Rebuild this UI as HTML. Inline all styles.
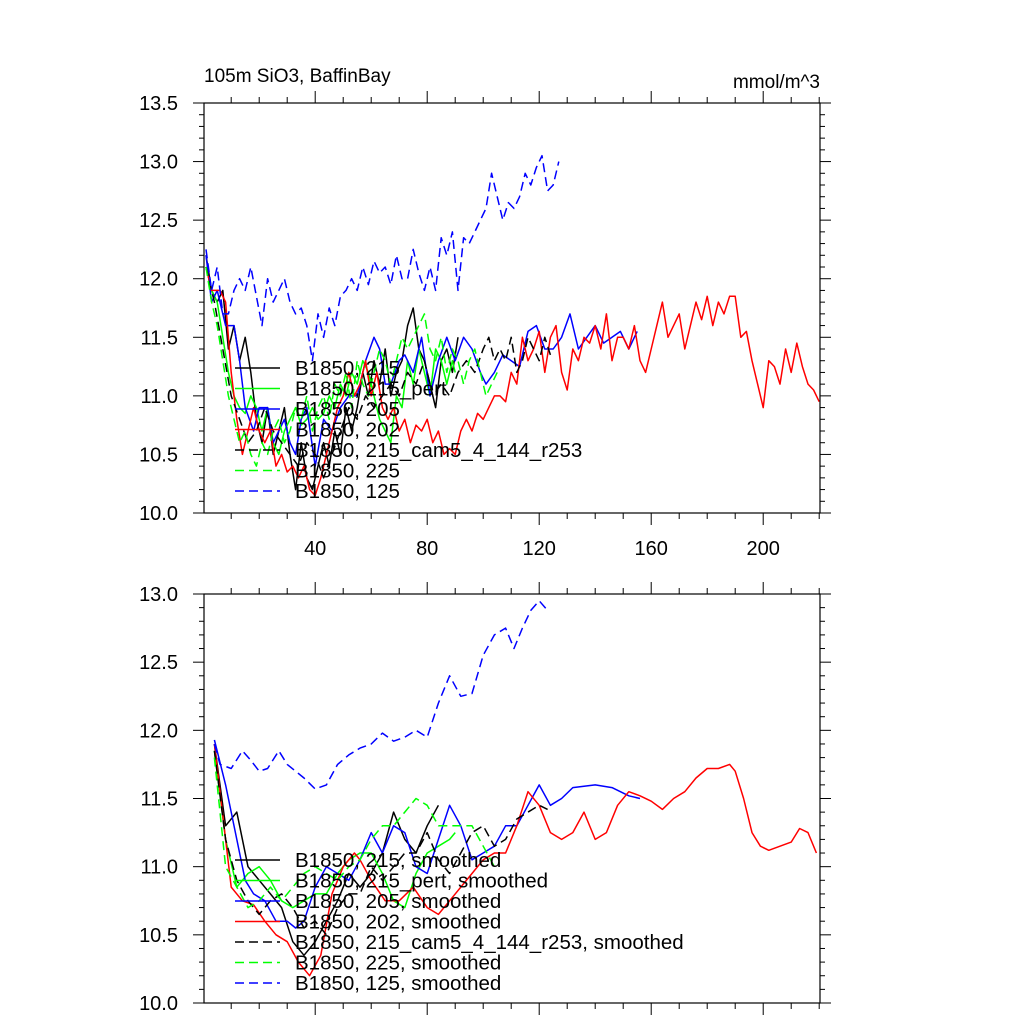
<!DOCTYPE html>
<html><head><meta charset="utf-8"><style>
body{margin:0;background:#fff}
svg{display:block;font-family:"Liberation Sans",sans-serif}
</style></head><body>
<svg id="c" width="1024" height="1024" viewBox="0 0 1024 1024"></svg>
<script>
const rawBlueDash = [[1,12.25],[3,11.9],[5,12.1],[7,11.7],[9,11.7],[11,11.9],[13,12.0],[15,11.9],[17,12.1],[19,11.85],[21,11.6],[23,12.0],[25,11.8],[27,11.9],[29,12.0],[31,11.8],[33,11.7],[35,11.75],[37,11.6],[39,11.3],[41,11.7],[43,11.5],[45,11.75],[47,11.6],[49,11.85],[51,11.9],[53,12.0],[55,11.9],[57,12.1],[59,11.95],[61,12.15],[63,12.05],[65,12.1],[67,11.95],[69,12.2],[71,12.0],[73,12.0],[75,12.25],[77,12.05],[79,11.9],[81,12.1],[83,11.9],[85,12.35],[87,12.2],[89,12.4],[91,11.9],[93,12.35],[95,12.3],[97,12.4],[99,12.5],[101,12.6],[103,12.9],[105,12.7],[107,12.5],[109,12.65],[111,12.6],[113,12.7],[115,12.9],[117,12.8],[119,12.95],[121,13.05],[123,12.75],[125,12.8],[127,13.0]];
const rawRed = [[1,12.1],[3,11.9],[6,11.9],[8,11.8],[10,11.2],[12,10.8],[14,10.5],[16,10.7],[18,10.9],[20,10.7],[22,10.6],[24,10.7],[26,10.4],[28,10.5],[30,10.35],[32,10.4],[34,10.3],[36,10.4],[38,10.2],[40,10.15],[42,10.3],[44,10.5],[46,10.7],[48,10.9],[50,11.0],[52,11.2],[54,11.0],[56,11.1],[58,11.3],[60,11.0],[62,11.2],[64,10.9],[66,10.8],[68,10.9],[70,10.7],[72,10.8],[74,10.6],[76,10.75],[78,10.7],[80,10.8],[82,10.6],[84,10.7],[86,10.5],[88,10.55],[90,10.5],[92,10.7],[94,10.8],[96,10.7],[98,10.85],[100,10.8],[102,10.9],[104,11.0],[106,11.0],[108,10.95],[110,11.2],[112,11.1],[114,11.5],[116,11.3],[118,11.4],[120,11.55],[122,11.2],[124,11.5],[126,11.6],[128,11.2],[130,11.05],[132,11.4],[134,11.3],[136,11.5],[138,11.45],[140,11.6],[142,11.4],[144,11.7],[146,11.3],[148,11.5],[150,11.5],[152,11.4],[154,11.6],[156,11.3],[158,11.2],[160,11.4],[162,11.6],[164,11.8],[166,11.5],[168,11.6],[170,11.7],[172,11.4],[174,11.6],[176,11.8],[178,11.65],[180,11.85],[182,11.6],[184,11.8],[186,11.7],[188,11.85],[190,11.85],[192,11.5],[194,11.55],[196,11.3],[198,11.1],[200,10.9],[202,11.3],[204,11.25],[206,11.1],[208,11.4],[210,11.2],[212,11.45],[214,11.25],[216,11.1],[218,11.05],[220,10.95]];
const rawBlack = [[1,12.2],[3,11.9],[5,11.8],[7,11.9],[9,11.4],[11,11.6],[13,11.3],[15,11.5],[17,11.2],[19,10.8],[21,10.6],[23,10.9],[25,10.5],[27,10.7],[29,10.9],[31,10.5],[33,10.2],[35,10.6],[37,10.3],[39,10.2],[41,10.4],[43,10.6],[45,10.4],[47,10.7],[49,10.5],[51,10.9],[53,10.7],[55,10.9],[57,11.2],[59,11.0],[61,11.3],[63,11.1],[65,11.4],[67,11.0],[69,11.2],[71,11.3],[73,11.6],[75,11.75],[77,11.4],[79,11.3],[81,11.1],[83,10.9],[85,11.3],[87,11.4],[89,11.2],[91,11.5]];
const rawBlackDash = [[1,12.1],[4,11.8],[7,11.4],[10,11.0],[13,10.8],[16,10.6],[19,10.7],[22,10.9],[25,10.7],[28,10.6],[31,10.5],[34,10.4],[37,10.6],[40,10.5],[43,10.3],[46,10.5],[49,10.7],[52,10.9],[55,10.8],[58,11.0],[61,10.9],[64,11.0],[67,11.1],[70,11.0],[73,11.2],[76,11.1],[79,11.3],[82,11.0],[85,11.1],[88,11.0],[91,11.2],[94,11.3],[97,11.2],[100,11.4],[102,11.5],[104,11.3],[106,11.4],[108,11.3],[110,11.5],[112,11.2],[114,11.3],[116,11.5],[118,11.4],[120,11.3],[122,11.5],[124,11.35]];
const rawGreen = [[1,12.1],[3,11.9],[5,11.8],[7,11.5],[9,11.2],[11,11.0],[13,10.9],[15,10.85],[17,11.0],[19,10.9],[21,10.7],[23,10.9],[25,10.6],[27,10.5],[29,10.7],[31,10.8],[33,10.9],[35,10.75],[37,10.8],[39,10.9],[41,10.8],[43,10.85],[45,11.0],[47,10.9],[49,11.1],[51,11.0],[53,11.2],[55,11.1],[57,11.3],[59,11.2],[61,11.0],[63,10.8],[65,10.7],[67,10.6],[69,11.0],[71,10.9],[73,11.3],[75,11.1],[77,11.4],[79,11.2],[81,11.0],[83,11.4],[85,11.3],[87,11.1],[89,11.3],[90,11.2]];
const rawGreenDash = [[1,12.1],[3,11.8],[5,11.6],[7,11.3],[9,11.0],[11,10.8],[13,10.6],[15,10.7],[17,10.5],[19,10.4],[21,10.6],[23,10.5],[25,10.7],[27,10.8],[29,10.6],[31,10.7],[33,10.9],[35,10.8],[37,11.0],[39,10.7],[41,10.9],[43,11.0],[45,10.8],[47,11.1],[49,11.0],[51,11.2],[53,10.9],[55,11.3],[57,11.1],[59,11.0],[61,11.2],[63,11.4],[65,11.3],[67,11.1],[69,11.3],[71,11.5],[73,11.4],[75,11.5],[77,11.6],[79,11.7],[81,11.4],[83,11.3],[85,11.5],[87,11.2],[89,11.4],[91,11.3],[93,11.1],[95,11.3],[97,11.4],[99,11.2],[101,11.0],[103,11.1],[105,11.2]];
const rawBlue = [[1,12.2],[3,11.8],[5,11.9],[8,11.6],[11,11.6],[13,11.3],[15,10.9],[18,10.7],[20,10.9],[23,10.9],[25,10.6],[27,10.7],[29,10.8],[31,10.6],[33,10.5],[35,10.8],[37,10.9],[40,10.4],[43,10.8],[46,10.7],[49,10.9],[52,11.0],[55,11.0],[58,11.3],[61,11.5],[63,11.4],[65,11.1],[67,11.1],[70,11.3],[72,11.35],[75,11.2],[78,11.5],[81,11.0],[84,11.3],[87,11.5],[90,11.3],[93,11.5],[96,11.4],[99,11.2],[101,11.1],[104,11.2],[107,11.35],[110,11.3],[113,11.25],[116,11.55],[119,11.6],[122,11.4],[125,11.4],[128,11.5],[131,11.7],[134,11.4],[137,11.5],[140,11.6],[143,11.45],[146,11.5],[149,11.55],[152,11.4],[155,11.55]];

const smBlueDash = [[4,11.9],[6,11.75],[10,11.72],[14,11.85],[17,11.78],[20,11.7],[23,11.72],[27,11.85],[30,11.75],[33,11.7],[36,11.65],[40,11.57],[44,11.6],[48,11.75],[52,11.82],[56,11.87],[60,11.9],[64,11.98],[68,11.92],[72,11.95],[76,12.0],[80,11.95],[84,12.2],[88,12.4],[92,12.25],[96,12.27],[100,12.55],[104,12.7],[108,12.75],[111,12.6],[114,12.75],[117,12.88],[120,12.95],[123,12.88]];
const smRed = [[4,11.9],[8,11.2],[10,10.85],[14,10.75],[18,10.72],[22,10.6],[26,10.5],[30,10.45],[34,10.3],[38,10.2],[42,10.35],[46,10.8],[50,11.0],[54,11.1],[56,11.05],[60,10.9],[65,10.75],[70,10.75],[75,10.85],[80,10.7],[84,10.65],[88,10.75],[92,10.85],[96,10.95],[100,11.05],[104,11.1],[108,11.1],[112,11.3],[116,11.55],[120,11.45],[124,11.25],[128,11.2],[132,11.25],[136,11.4],[140,11.2],[144,11.25],[148,11.45],[152,11.55],[156,11.52],[160,11.48],[164,11.42],[168,11.5],[172,11.55],[176,11.65],[180,11.72],[184,11.72],[188,11.75],[190,11.7],[193,11.5],[196,11.25],[199,11.15],[202,11.12],[206,11.15],[210,11.18],[213,11.28],[216,11.25],[219,11.1]];
const smBlue = [[4,11.93],[8,11.6],[12,11.2],[15,10.9],[18,10.8],[22,10.75],[26,10.6],[30,10.6],[33,10.55],[36,10.6],[40,10.85],[44,11.0],[48,10.95],[52,10.9],[56,11.05],[60,11.25],[64,11.1],[68,11.3],[72,11.25],[76,11.0],[80,10.95],[84,11.2],[88,11.45],[92,11.3],[96,11.05],[100,11.1],[104,11.15],[108,11.3],[112,11.3],[116,11.45],[120,11.6],[124,11.45],[128,11.5],[132,11.58],[140,11.6],[146,11.58],[152,11.52],[156,11.5]];
const smBlack = [[4,11.9],[8,11.3],[12,11.4],[16,11.0],[20,10.9],[24,10.8],[28,10.7],[32,10.45],[36,10.35],[40,10.45],[44,10.6],[48,10.75],[52,10.95],[56,10.85],[60,10.95],[64,11.1],[68,11.4],[72,11.2],[76,11.1],[80,11.3],[84,11.45]];
const smBlackDash = [[4,11.85],[8,11.2],[12,10.9],[16,10.75],[20,10.65],[24,10.75],[28,10.8],[32,10.7],[36,10.55],[40,10.6],[44,10.5],[48,10.7],[52,10.8],[56,10.8],[60,11.0],[64,10.9],[68,11.0],[72,11.1],[76,11.1],[80,11.25],[84,11.05],[88,10.95],[92,11.1],[96,11.25],[100,11.3],[104,11.15],[108,11.2],[112,11.35],[116,11.4],[120,11.45],[123,11.42]];
const smGreen = [[4,11.85],[8,11.2],[12,10.85],[16,10.95],[20,11.0],[24,10.9],[28,10.75],[32,10.7],[36,10.75],[40,10.8],[44,10.8],[48,10.95],[52,11.05],[56,11.1],[60,11.1],[64,10.95],[68,10.75],[72,10.7],[76,10.95],[80,11.1],[84,11.15],[88,11.2],[90,11.25]];
const smGreenDash = [[4,11.8],[8,11.0],[12,10.85],[16,10.7],[20,10.75],[24,10.85],[28,10.75],[32,10.85],[36,10.95],[40,11.0],[44,10.95],[48,10.9],[52,11.0],[56,11.05],[60,11.2],[64,11.3],[68,11.3],[72,11.4],[76,11.5],[80,11.45],[84,11.3],[88,11.3],[92,11.3],[96,11.3],[100,11.15],[104,11.0]];

const topYTicks = [10.0,10.5,11.0,11.5,12.0,12.5,13.0,13.5];
const botYTicks = [10.0,10.5,11.0,11.5,12.0,12.5,13.0];
const xTicks = [40,80,120,160,200];
const topLegend = ["B1850, 215","B1850, 215_pert","B1850, 205","B1850, 202","B1850, 215_cam5_4_144_r253","B1850, 225","B1850, 125"];
const botLegend = ["B1850, 215, smoothed","B1850, 215_pert, smoothed","B1850, 205, smoothed","B1850, 202, smoothed","B1850, 215_cam5_4_144_r253, smoothed","B1850, 225, smoothed","B1850, 125, smoothed"];

const NS="http://www.w3.org/2000/svg";
const svg=document.getElementById('c');
function mk(tag,attrs,parent){const e=document.createElementNS(NS,tag);for(const k in attrs)e.setAttribute(k,attrs[k]);(parent||svg).appendChild(e);return e;}
const X0=203.2,XS=2.8,XL=204,XR=820;
const xs=t=>X0+XS*t;

function panel(name,top,bot,vmin,vmax,yticks,showX,series,legend,legY){
  const g=mk('g',{});
  
  
  const ys=v=>bot-(v-vmin)/(vmax-vmin)*(bot-top);
  const sg=mk('g',{},g);
  series.forEach(s=>{
    const p=mk('polyline',{points:s.d.map(q=>xs(q[0]).toFixed(1)+','+ys(q[1]).toFixed(1)).join(' '),fill:'none',stroke:s.c,'stroke-width':1.5,'stroke-dasharray':s.dash?'9,5':'none','stroke-linejoin':'round'},sg);
    
    
  });
  const fr=mk('rect',{x:XL,y:top,width:XR-XL,height:bot-top,fill:'none',stroke:'#000','stroke-width':1.2},g);
  
  
  for(let v=vmin;v<=vmax+1e-6;v+=0.1){
    const y=ys(v);const maj=Math.abs(v*2-Math.round(v*2))<1e-6;
    const L=maj?11:5;
    mk('line',{x1:XL,x2:XL-L,y1:y,y2:y,stroke:'#000','stroke-width':1},g);
    mk('line',{x1:XR,x2:XR+L,y1:y,y2:y,stroke:'#000','stroke-width':1},g);
  }
  yticks.forEach(v=>{
    const t=mk('text',{x:178,y:ys(v)+7,'text-anchor':'end','font-size':20},g);
    t.textContent=v.toFixed(1);
    
    
  });
  for(let t=10;t<=220;t+=10){
    const x=xs(t);const maj=t%40===0;const L=maj?12:6;
    mk('line',{x1:x,x2:x,y1:bot,y2:bot+L,stroke:'#000','stroke-width':1},g);
    mk('line',{x1:x,x2:x,y1:top,y2:top-L,stroke:'#000','stroke-width':1},g);
  }
  if(showX) xTicks.forEach(v=>{
    const t=mk('text',{x:xs(v),y:bot+42,'text-anchor':'middle','font-size':20},g);
    t.textContent=v;
    
    
  });
  legend.forEach((lab,i)=>{
    const s=series[i];const y=legY+i*20.5;
    const le=mk('g',{},g);
    
    
    mk('line',{x1:235,x2:280,y1:y,y2:y,stroke:s.c,'stroke-width':1.5,'stroke-dasharray':s.dash?'9,5':'none'},le);
    const t=mk('text',{x:295,y:y+7,'font-size':20.5},le);
    t.textContent=lab;
  });
}
const topSeries=[
 {n:'series-215',c:'#000',d:rawBlack},{n:'series-215-pert',c:'#00ff00',d:rawGreen},{n:'series-205',c:'#0000ff',d:rawBlue},{n:'series-202',c:'#ff0000',d:rawRed},
 {n:'series-215-cam5',c:'#000',d:rawBlackDash,dash:1},{n:'series-225',c:'#00ff00',d:rawGreenDash,dash:1},{n:'series-125',c:'#0000ff',d:rawBlueDash,dash:1}];
const botSeries=[
 {n:'series-215-smoothed',c:'#000',d:smBlack},{n:'series-215-pert-smoothed',c:'#00ff00',d:smGreen},{n:'series-205-smoothed',c:'#0000ff',d:smBlue},{n:'series-202-smoothed',c:'#ff0000',d:smRed},
 {n:'series-215-cam5-smoothed',c:'#000',d:smBlackDash,dash:1},{n:'series-225-smoothed',c:'#00ff00',d:smGreenDash,dash:1},{n:'series-125-smoothed',c:'#0000ff',d:smBlueDash,dash:1}];
panel('top-panel',103,513,10,13.5,topYTicks,true,topSeries,topLegend,368);
panel('bottom-panel',594,1003,10,13,botYTicks,false,botSeries,botLegend,860);
const t1=mk('text',{x:204,y:82,'font-size':19});t1.textContent='105m SiO3, BaffinBay';


const t2=mk('text',{x:820,y:88,'font-size':19,'text-anchor':'end'});t2.textContent='mmol/m^3';


</script>
</body></html>
